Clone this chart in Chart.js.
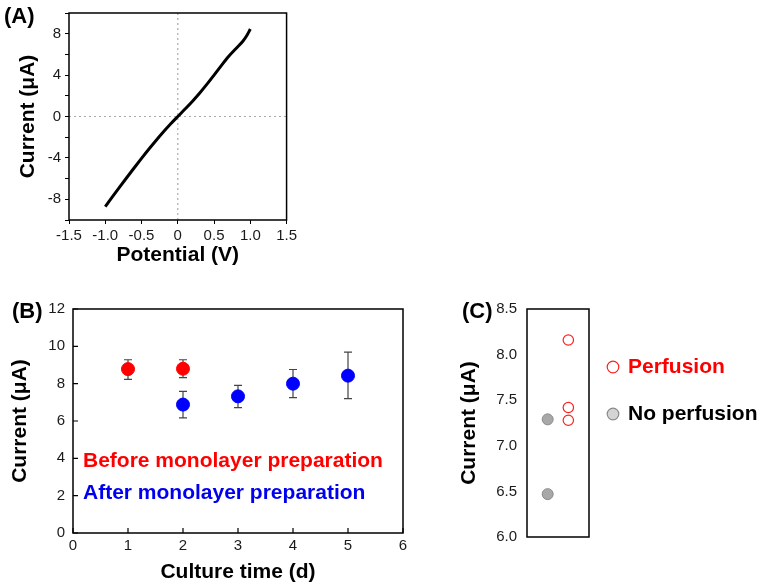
<!DOCTYPE html>
<html>
<head>
<meta charset="utf-8">
<script src="https://cdn.jsdelivr.net/npm/chart.js@4.4.0/dist/chart.umd.min.js"></script>
<style>
  html, body { margin: 0; padding: 0; background: #fff; }
  #wrap { position: relative; width: 761px; height: 588px; overflow: hidden; }
  canvas { position: absolute; }
</style>
</head>
<body>
<div id="wrap">
  <canvas id="chartA" width="300" height="275" style="left:0;top:0"></canvas>
  <canvas id="chartB" width="440" height="298" style="left:0;top:290px"></canvas>
  <canvas id="chartC" width="311" height="298" style="left:450px;top:290px"></canvas>
</div>
<script>
// (A) I-V curve
const ivPotential = [-1.0, -0.9, -0.8, -0.7, -0.6, -0.5, -0.4, -0.3, -0.2, -0.1, 0.0,
                     0.1, 0.2, 0.3, 0.4, 0.5, 0.6, 0.7, 0.8, 0.9, 0.95, 1.0];
const ivCurrent = [-8.7, -7.75, -6.8, -5.87, -4.95, -4.05, -3.17, -2.32, -1.5, -0.73, 0.0,
                   0.72, 1.46, 2.25, 3.1, 4.0, 4.92, 5.8, 6.55, 7.3, 7.8, 8.45];

// (B) current vs culture time
const beforeLabel = 'Before monolayer preparation';
const beforeDays = [1, 2];
const beforeMean = [8.78, 8.8];
const beforeLow = [8.23, 8.32];
const beforeHigh = [9.28, 9.28];

const afterLabel = 'After monolayer preparation';
const afterDays = [2, 3, 4, 5];
const afterMean = [6.88, 7.32, 8.0, 8.43];
const afterLow = [6.17, 6.72, 7.25, 7.2];
const afterHigh = [7.59, 7.91, 8.76, 9.69];

// (C) perfusion vs no perfusion
const groupLabels = ['No perfusion', 'Perfusion'];
const noPerfusion = [7.29, 6.47];
const perfusion = [8.16, 7.42, 7.28];

const FONT = '"Liberation Sans", Arial, sans-serif';
const tickFont = { family: FONT, size: 15 };
const titleFont = { family: FONT, size: 21, weight: 'bold' };
const TICK_COLOR = '#1a1a1a';

Chart.defaults.font.family = FONT;
Chart.defaults.color = TICK_COLOR;

const frame = {
  id: 'frame',
  afterDatasetsDraw(chart) {
    const a = chart.chartArea, c = chart.ctx;
    c.save();
    c.strokeStyle = '#000';
    c.lineWidth = 1.5;
    c.strokeRect(a.left, a.top, a.right - a.left, a.bottom - a.top);
    c.restore();
  }
};

function panelLabel(text, x, y) {
  return {
    id: 'panelLabel',
    afterDraw(chart) {
      const c = chart.ctx;
      c.save();
      c.font = 'bold 22px ' + FONT;
      c.fillStyle = '#000';
      c.textBaseline = 'middle';
      c.fillText(text, x, y);
      c.restore();
    }
  };
}

// ---------- (A) ----------
new Chart(document.getElementById('chartA'), {
  type: 'scatter',
  data: {
    datasets: [{
      data: ivPotential.map((v, i) => ({ x: v, y: ivCurrent[i] })),
      showLine: true,
      borderColor: '#000',
      borderWidth: 3,
      pointRadius: 0,
      cubicInterpolationMode: 'monotone'
    }]
  },
  options: {
    responsive: false,
    animation: false,
    devicePixelRatio: 1,
    layout: { padding: { left: 0, right: 12, top: 8, bottom: 0 } },
    plugins: { legend: { display: false }, tooltip: { enabled: false } },
    scales: {
      x: {
        min: -1.5, max: 1.5,
        afterFit: s => { s.height = 55; },
        ticks: { stepSize: 0.5, font: tickFont, color: TICK_COLOR, padding: 3, maxRotation: 0, autoSkip: false,
                 callback: v => v === 0 ? '0' : v.toFixed(1) },
        grid: { color: 'transparent', tickColor: '#000', tickLength: 4 },
        border: { display: false },
        title: { display: true, text: 'Potential (V)', font: titleFont, color: '#000', padding: { top: 0, bottom: 7 } }
      },
      y: {
        min: -10, max: 10,
        afterFit: s => { s.width = 69; },
        ticks: { stepSize: 2, font: tickFont, color: TICK_COLOR, padding: 4, autoSkip: false,
                 callback: v => (v % 4 === 0 && Math.abs(v) < 10) ? String(v) : '' },
        grid: { color: 'transparent', tickColor: '#000', tickLength: 4 },
        border: { display: false },
        title: { display: true, text: 'Current (μA)', font: titleFont, color: '#000', padding: { top: 16, bottom: 0 } }
      }
    }
  },
  plugins: [frame, panelLabel('(A)', 4, 17), {
    id: 'dotted',
    beforeDatasetsDraw(chart) {
      // dotted zero lines
      const a = chart.chartArea, c = chart.ctx;
      const x0 = chart.scales.x.getPixelForValue(0);
      const y0 = chart.scales.y.getPixelForValue(0);
      c.save();
      c.strokeStyle = '#aaa';
      c.lineWidth = 1.2;
      c.setLineDash([2, 3]);
      c.beginPath();
      c.moveTo(x0, a.top); c.lineTo(x0, a.bottom);
      c.moveTo(a.left, y0); c.lineTo(a.right, y0);
      c.stroke();
      c.restore();
    }
  }]
});

// ---------- (B) ----------
const errorBars = {
  id: 'errorBars',
  beforeDatasetsDraw(chart) {
    const c = chart.ctx, xs = chart.scales.x, ys = chart.scales.y;
    c.save();
    c.strokeStyle = '#444';
    c.lineWidth = 1.2;
    chart.data.datasets.forEach(ds => {
      ds.data.forEach((p, i) => {
        const x = xs.getPixelForValue(p.x);
        const lo = ys.getPixelForValue(ds.errLow[i]);
        const hi = ys.getPixelForValue(ds.errHigh[i]);
        c.beginPath();
        c.moveTo(x, lo); c.lineTo(x, hi);
        c.moveTo(x - 4, lo); c.lineTo(x + 4, lo);
        c.moveTo(x - 4, hi); c.lineTo(x + 4, hi);
        c.stroke();
      });
    });
    c.restore();
  }
};

const innerTicks = {
  id: 'innerTicks',
  afterDatasetsDraw(chart) {
    const c = chart.ctx, a = chart.chartArea;
    c.save();
    c.strokeStyle = '#000';
    c.lineWidth = 1.2;
    c.beginPath();
    chart.scales.x.ticks.forEach(t => {
      const x = chart.scales.x.getPixelForValue(t.value);
      c.moveTo(x, a.bottom); c.lineTo(x, a.bottom - 5);
    });
    chart.scales.y.ticks.forEach(t => {
      const y = chart.scales.y.getPixelForValue(t.value);
      c.moveTo(a.left, y); c.lineTo(a.left + 5, y);
    });
    c.stroke();
    c.restore();
  }
};

const seriesText = {
  id: 'seriesText',
  afterDraw(chart) {
    const c = chart.ctx, a = chart.chartArea;
    c.save();
    c.font = 'bold 21px ' + FONT;
    c.textBaseline = 'middle';
    chart.data.datasets.forEach((ds, i) => {
      c.fillStyle = ds.textColor;
      c.fillText(ds.label, a.left + 10, a.top + 152 + i * 32);
    });
    c.restore();
  }
};

new Chart(document.getElementById('chartB'), {
  type: 'scatter',
  data: {
    datasets: [
      {
        label: beforeLabel,
        data: beforeDays.map((d, i) => ({ x: d, y: beforeMean[i] })),
        errLow: beforeLow, errHigh: beforeHigh,
        backgroundColor: '#ff0000', borderColor: '#ff0000', textColor: '#ff0000',
        pointRadius: 6.5
      },
      {
        label: afterLabel,
        data: afterDays.map((d, i) => ({ x: d, y: afterMean[i] })),
        errLow: afterLow, errHigh: afterHigh,
        backgroundColor: '#0000ff', borderColor: '#0000ff', textColor: '#0000ee',
        pointRadius: 6.5
      }
    ]
  },
  options: {
    responsive: false,
    animation: false,
    devicePixelRatio: 1,
    layout: { padding: { left: 0, right: 37, top: 19, bottom: 0 } },
    plugins: { legend: { display: false }, tooltip: { enabled: false } },
    scales: {
      x: {
        min: 0, max: 6,
        afterFit: s => { s.height = 55; },
        ticks: { stepSize: 1, font: tickFont, color: TICK_COLOR, padding: 4, maxRotation: 0, autoSkip: false },
        grid: { display: false, drawTicks: false },
        border: { display: false },
        title: { display: true, text: 'Culture time (d)', font: titleFont, color: '#000', padding: { top: 0, bottom: 3 } }
      },
      y: {
        min: 0, max: 12,
        afterFit: s => { s.width = 73; },
        ticks: { stepSize: 2, font: tickFont, color: TICK_COLOR, padding: 8, autoSkip: false },
        grid: { display: false, drawTicks: false },
        border: { display: false },
        title: { display: true, text: 'Current (μA)', font: titleFont, color: '#000', padding: { top: 8, bottom: 0 } }
      }
    }
  },
  plugins: [errorBars, frame, innerTicks, seriesText, panelLabel('(B)', 12, 22)]
});

// ---------- (C) ----------
const sideLegend = {
  id: 'sideLegend',
  afterDraw(chart) {
    const c = chart.ctx;
    c.save();
    c.font = 'bold 21px ' + FONT;
    c.textBaseline = 'middle';
    // order as in the reference: Perfusion first
    [1, 0].forEach((di, row) => {
      const ds = chart.data.datasets[di];
      const y = 77 + row * 47;
      c.beginPath();
      c.arc(163, y, 5.8, 0, Math.PI * 2);
      if (ds.legendFill) { c.fillStyle = ds.legendFill; c.fill(); }
      c.strokeStyle = ds.borderColor;
      c.lineWidth = 1.2;
      c.stroke();
      c.fillStyle = ds.textColor;
      c.fillText(ds.label, 178, y);
    });
    c.restore();
  }
};

new Chart(document.getElementById('chartC'), {
  type: 'scatter',
  data: {
    datasets: [
      {
        label: groupLabels[0],
        data: noPerfusion.map(v => ({ x: 1, y: v })),
        backgroundColor: '#a8a8a8', borderColor: '#8a8a8a', borderWidth: 1,
        legendFill: '#d4d4d4', textColor: '#000',
        pointRadius: 5.5
      },
      {
        label: groupLabels[1],
        data: perfusion.map(v => ({ x: 2, y: v })),
        backgroundColor: 'rgba(255,255,255,0)', borderColor: '#ff2020', borderWidth: 1.2,
        legendFill: null, textColor: '#ff0000',
        pointRadius: 5.2
      }
    ]
  },
  options: {
    responsive: false,
    animation: false,
    devicePixelRatio: 1,
    layout: { padding: { left: 0, right: 172, top: 18, bottom: 0 } },
    plugins: { legend: { display: false }, tooltip: { enabled: false } },
    scales: {
      x: {
        min: 0, max: 3,
        afterFit: s => { s.height = 51; },
        ticks: { display: false },
        grid: { display: false, drawTicks: false },
        border: { display: false }
      },
      y: {
        min: 6, max: 8.5,
        afterFit: s => { s.width = 77; },
        ticks: { stepSize: 0.5, font: tickFont, color: TICK_COLOR, padding: 10, autoSkip: false,
                 callback: v => v.toFixed(1) },
        grid: { display: false, drawTicks: false },
        border: { display: false },
        title: { display: true, text: 'Current (μA)', font: titleFont, color: '#000', padding: { top: 7, bottom: 0 } }
      }
    }
  },
  plugins: [frame, sideLegend, panelLabel('(C)', 12, 22)]
});
</script>
</body>
</html>
